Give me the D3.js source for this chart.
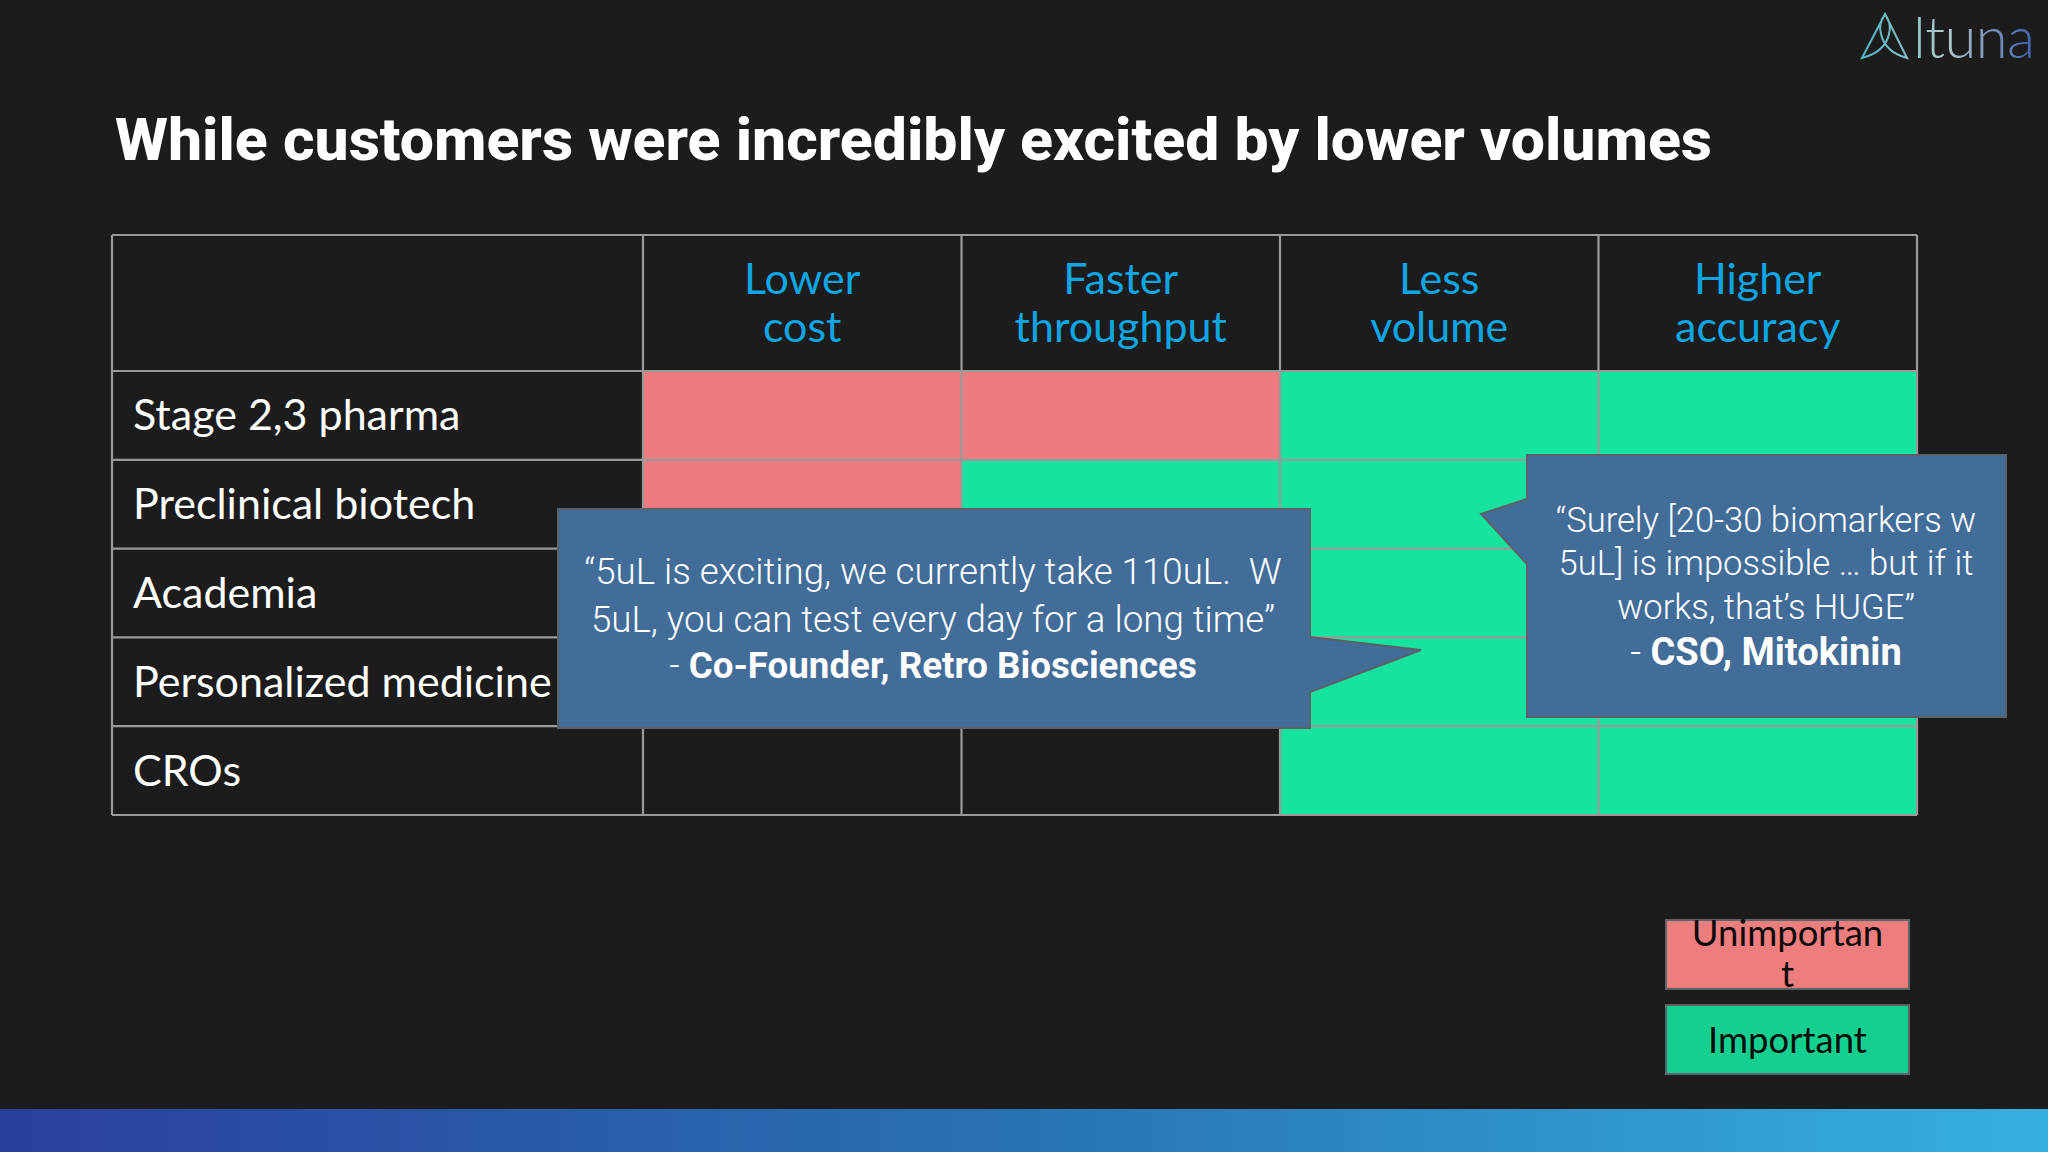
<!DOCTYPE html>
<html>
<head>
<meta charset="utf-8">
<script src="https://cdn.jsdelivr.net/npm/d3@7"></script>
<style>
  html, body { margin: 0; padding: 0; background: #1c1c1c; overflow: hidden; }
  svg { display: block; }
  text { white-space: pre; }
</style>
</head>
<body>
<script>
var titleText = "While customers were incredibly excited by lower volumes";
var benefits = [["Lower", "cost"], ["Faster", "throughput"], ["Less", "volume"], ["Higher", "accuracy"]];
var customers = ["Stage 2,3 pharma", "Preclinical biotech", "Academia", "Personalized medicine", "CROs"];

// one list per customer, same order as benefits: 1 important, 0 unimportant, null blank or hidden behind a quote
var stagePharma = [0, 0, 1, 1];
var preclinical = [0, 1, 1, 1];
var academia = [null, null, 1, 1];
var personalized = [null, null, 1, 1];
var cros = [null, null, 1, 1];
var importance = [stagePharma, preclinical, academia, personalized, cros];

var legendItems = [["Unimportan", "t"], ["Important"]];
var legendValues = [0, 1];
var quoteOne = ["“5uL is exciting, we currently take 110uL.  W", "5uL, you can test every day for a long time”"];
var quoteOneBy = "Co-Founder, Retro Biosciences";
var quoteTwo = ["“Surely [20-30 biomarkers w", "5uL] is impossible … but if it", "works, that’s HUGE”"];
var quoteTwoBy = "CSO, Mitokinin";

var W = 2048, H = 1152;
var bodyFont = "Lato, 'Noto Sans', sans-serif";
var quoteFont = "Roboto, 'Liberation Sans', sans-serif";

var svg = d3.select("body").append("svg").attr("width", W).attr("height", H);
svg.append("rect").attr("width", W).attr("height", H).attr("fill", "#1c1c1c");

var defs = svg.append("defs");
var band = defs.append("linearGradient").attr("id", "band");
band.append("stop").attr("offset", "0%").attr("stop-color", "#2a3f9c");
band.append("stop").attr("offset", "50%").attr("stop-color", "#2872b4");
band.append("stop").attr("offset", "100%").attr("stop-color", "#35b1de");
var logoGrad = defs.append("linearGradient").attr("id", "logoGrad")
    .attr("gradientUnits", "userSpaceOnUse")
    .attr("x1", 1860).attr("x2", 2034).attr("y1", 0).attr("y2", 0);
logoGrad.append("stop").attr("offset", "0%").attr("stop-color", "#4fb5c0");
logoGrad.append("stop").attr("offset", "50%").attr("stop-color", "#b4c8c8");
logoGrad.append("stop").attr("offset", "75%").attr("stop-color", "#7f92bd");
logoGrad.append("stop").attr("offset", "100%").attr("stop-color", "#3e62ad");

svg.append("rect").attr("y", 1109).attr("width", W).attr("height", H - 1109).attr("fill", "url(#band)");

svg.append("text")
    .attr("x", 115).attr("y", 160)
    .attr("textLength", 1597).attr("lengthAdjust", "spacingAndGlyphs")
    .style("font-family", quoteFont).style("font-weight", 800).style("font-size", "59px")
    .attr("fill", "#ffffff")
    .text(titleText);

// logo
var logo = svg.append("g").attr("fill", "none").attr("stroke", "url(#logoGrad)").attr("stroke-width", 2);
logo.append("path").attr("d", "M1885,14 L1862,58 Q1885,52 1889,34 Q1892,24 1885,14 Q1878,24 1881,34 Q1885,52 1907,58 Z");
svg.append("text")
    .attr("x", 1913).attr("y", 58)
    .attr("textLength", 122)
    .style("font-family", "Lato, sans-serif").style("font-weight", 300).style("font-size", "58px")
    .attr("fill", "url(#logoGrad)")
    .text("ltuna");

// table
var xLeft = 112, yTop = 235, yHead = 371;
var x = d3.scaleBand().domain(d3.range(benefits.length)).range([643, 1917]);
var y = d3.scaleBand().domain(d3.range(customers.length)).range([yHead, 815]);
var cellColor = d3.scaleOrdinal().domain([0, 1]).range(["#ec7c80", "#17e3a1"]);

var cells = [];
importance.forEach(function(row, r) {
    row.forEach(function(v, c) {
        if (v !== null) cells.push({ r: r, c: c, v: v });
    });
});

svg.append("g").selectAll("rect").data(cells).join("rect")
    .attr("x", function(d) { return x(d.c); })
    .attr("y", function(d) { return y(d.r); })
    .attr("width", x.bandwidth())
    .attr("height", y.bandwidth())
    .attr("fill", function(d) { return cellColor(d.v); });

var grid = svg.append("g").attr("stroke", "#9a9a9a").attr("stroke-width", 2.2);
[yTop].concat(y.domain().map(function(d) { return y(d); }), [y.range()[1]]).forEach(function(v) {
    grid.append("line").attr("x1", xLeft).attr("x2", 1917).attr("y1", v).attr("y2", v);
});
[xLeft].concat(x.domain().map(function(d) { return x(d); }), [x.range()[1]]).forEach(function(v) {
    grid.append("line").attr("x1", v).attr("x2", v).attr("y1", yTop).attr("y2", y.range()[1]);
});

benefits.forEach(function(lines, c) {
    svg.append("g").selectAll("text").data(lines).join("text")
        .attr("x", x(c) + x.bandwidth() / 2)
        .attr("y", function(d, i) { return 294 + i * 48; })
        .attr("text-anchor", "middle")
        .style("font-family", bodyFont).style("font-size", "43px")
        .attr("fill", "#0da6e2")
        .text(function(d) { return d; });
});

svg.append("g").selectAll("text").data(customers).join("text")
    .attr("x", 133)
    .attr("y", function(d, i) { return y(i) + y.bandwidth() / 2 + 15; })
    .style("font-family", bodyFont).style("font-size", "43px")
    .attr("fill", "#ffffff")
    .text(function(d) { return d; });

// quotes
function callout(points, lines, by, cx, lineY, size, bySize) {
    var g = svg.append("g");
    g.append("polygon").attr("points", points.join(" "))
        .attr("fill", "#416d98").attr("stroke", "#5b6166").attr("stroke-width", 2);
    lines.forEach(function(t, i) {
        g.append("text").attr("x", cx).attr("y", lineY[i]).attr("text-anchor", "middle")
            .style("font-family", quoteFont).style("font-size", size + "px").style("font-weight", 300)
            .attr("fill", "#ffffff").text(t);
    });
    var last = g.append("text").attr("x", cx).attr("y", lineY[lines.length]).attr("text-anchor", "middle")
        .style("font-family", quoteFont).style("font-size", bySize + "px").attr("fill", "#ffffff");
    last.append("tspan").style("font-weight", 300).text("- ");
    last.append("tspan").style("font-weight", 700).text(by);
}

callout([[558, 509], [1310, 509], [1310, 637], [1421, 650], [1310, 692], [1310, 728], [558, 728]],
    quoteOne, quoteOneBy, 933, [584, 632, 678], 36.7, 36.7);
callout([[1527, 455], [2006, 455], [2006, 717], [1527, 717], [1527, 564], [1481, 514], [1527, 499]],
    quoteTwo, quoteTwoBy, 1766, [532, 575, 619, 665], 34.6, 38);

// legend
var legendY = d3.scaleBand().domain(legendValues).range([920, 1074]).paddingInner(0.19);
var legendColor = d3.scaleOrdinal().domain(legendValues).range(["#ee7e7e", "#14cf90"]);
var legendG = svg.append("g").selectAll("g").data(legendValues).join("g");
legendG.append("rect")
    .attr("x", 1666).attr("width", 243)
    .attr("y", function(d) { return legendY(d); })
    .attr("height", legendY.bandwidth())
    .attr("fill", function(d) { return legendColor(d); })
    .attr("stroke", "#5f6468").attr("stroke-width", 2);
legendItems.forEach(function(lines, k) {
    svg.append("g").selectAll("text").data(lines).join("text")
        .attr("x", 1787.5)
        .attr("y", function(d, i) { return (k === 0 ? 946 + i * 41 : 1053); })
        .attr("text-anchor", "middle")
        .style("font-family", bodyFont).style("font-size", "36.5px")
        .attr("fill", "#0b0b0b")
        .text(function(d) { return d; });
});
</script>
</body>
</html>
